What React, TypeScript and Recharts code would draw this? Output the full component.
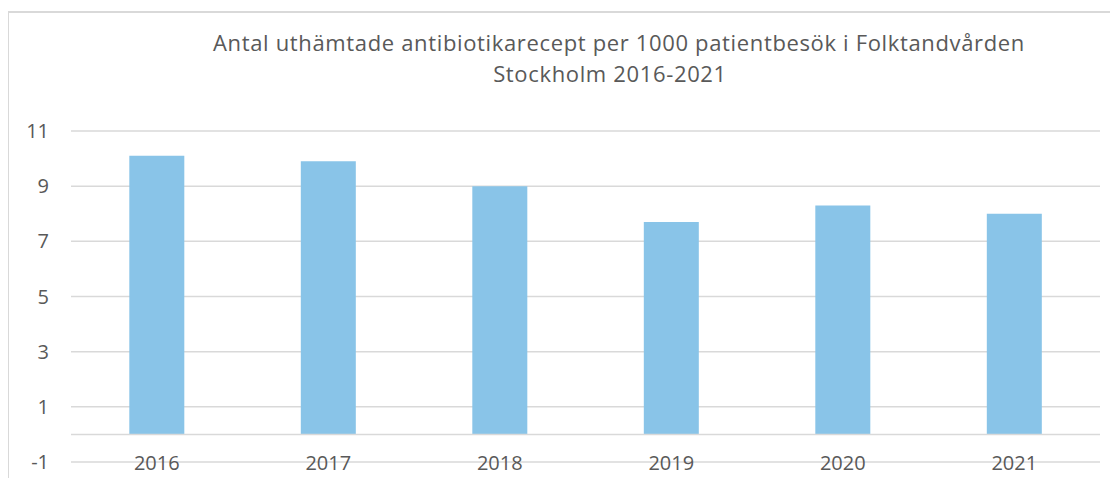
import React from 'react';
import { BarChart, Bar, XAxis, YAxis, CartesianGrid, ReferenceLine } from 'recharts';

const years = ['2016', '2017', '2018', '2019', '2020', '2021'];
const prescriptions = [10.1, 9.9, 9.0, 7.7, 8.3, 8.0];
const yTicks = [-1, 1, 3, 5, 7, 9, 11];
const titleLines = ['Antal uthämtade antibiotikarecept per 1000 patientbesök i Folktandvården', 'Stockholm 2016-2021'];

const data = years.map((year, i) => ({ year, value: prescriptions[i] }));

const FONT = '"Open Sans", Lato, sans-serif';
const TEXT = '#595959';
const GRID = '#d9d9d9';

const YearTick = (props: any) => {
  const { x, y, payload } = props;
  return (
    <text x={x} y={y} dy={8} textAnchor="middle" fill={TEXT} fontSize={20} fontFamily={FONT}>
      {payload.value}
    </text>
  );
};

export default function App() {
  return (
    <div style={{ position: 'relative', width: 1118, height: 486, margin: -8, overflow: 'hidden', background: '#fff' }}>
      <div style={{ position: 'absolute', left: 7, top: 11, width: 1200, height: 600, border: `2px solid ${GRID}` }} />
      <div style={{ position: 'absolute', left: 0, top: 0 }}>
        <BarChart width={1118} height={486} data={data} margin={{ top: 131, right: 18, left: 0, bottom: 0 }} barCategoryGap="34%">
          <text x={619} y={51} textAnchor="middle" fill={TEXT} fontSize={22} letterSpacing={0.65} fontFamily={FONT}>{titleLines[0]}</text>
          <text x={610} y={82} textAnchor="middle" fill={TEXT} fontSize={22} letterSpacing={0.65} fontFamily={FONT}>{titleLines[1]}</text>
          <CartesianGrid horizontal vertical={false} stroke={GRID} strokeWidth={1.5} />
          <XAxis dataKey="year" axisLine={false} tickLine={false} tickSize={0} tickMargin={0} height={24} tick={<YearTick />} interval={0} />
          <YAxis
            domain={[-1, 11]}
            ticks={yTicks}
            axisLine={false}
            tickLine={false}
            tickSize={0}
            tickMargin={22}
            width={71}
            tick={{ fill: TEXT, fontSize: 20, fontFamily: FONT }}
          />
          <ReferenceLine y={0} stroke={GRID} strokeWidth={1.5} />
          <Bar dataKey="value" fill="#89C4E8" isAnimationActive={false} />
        </BarChart>
      </div>
    </div>
  );
}
